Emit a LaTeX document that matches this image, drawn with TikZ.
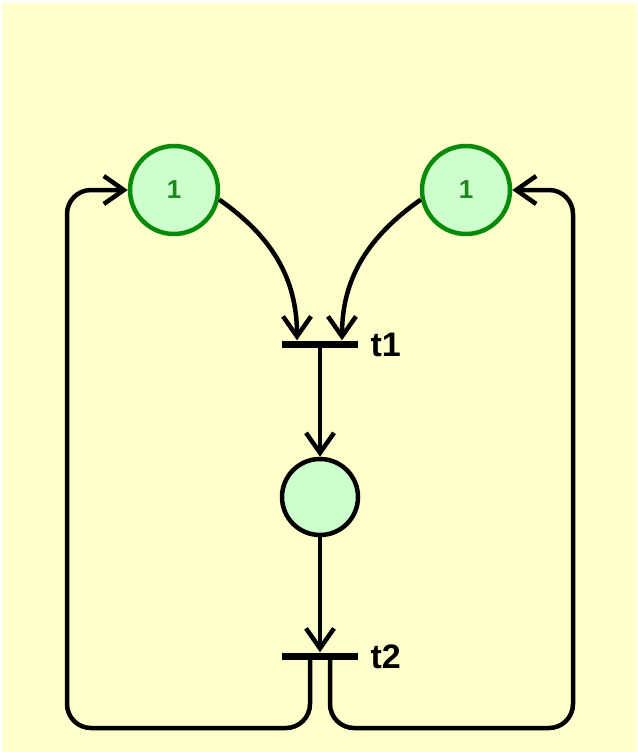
\documentclass[tikz,border=0pt]{standalone}
\usepackage{fontspec}
\setmainfont{Liberation Sans}
\usetikzlibrary{arrows.meta}
\definecolor{bgyellow}{HTML}{FFFFCC}
\definecolor{placefill}{HTML}{CCFFCC}
\definecolor{placegreen}{HTML}{0A8A0A}
\definecolor{tokengreen}{HTML}{1E871E}
\begin{document}
\begin{tikzpicture}[x=1pt,y=-1pt,
  place/.style={circle,draw,line width=4.5pt,fill=placefill,inner sep=0pt},
  marked/.style={place,draw=placegreen,minimum size=88pt,text=tokengreen,
    font=\bfseries\fontsize{26}{28}\selectfont},
  plain/.style={place,draw=black,minimum size=76pt},
  trans/.style={rectangle,fill=black,minimum width=76pt,minimum height=7pt,inner sep=0pt},
  tlabel/.style={anchor=west,font=\bfseries\fontsize{34}{36}\selectfont},
  arc/.style={line width=4.5pt,-{Straight Barb[length=20pt,width=28pt,line width=4.5pt]}}]
  % canvas
  \useasboundingbox (0,0) rectangle (637,752);
  \fill[white] (0,0) rectangle (637,752);
  \fill[bgyellow] (2,3) rectangle (637,752);

  % places and transitions
  \node[marked] (p1) at (174,190) {1};
  \node[marked] (p2) at (466,190) {1};
  \node[plain] (p3) at (320,497) {};
  \node[trans] (t1) at (320,344) {};
  \node[trans] (t2) at (320,656) {};
  \node[tlabel] (l1) at (367,345) {t1};
  \node[tlabel] (l2) at (367,657) {t2};

  % routing points of the return loops
  \coordinate (bl) at (67,728);
  \coordinate (br) at (573,728);

  % arcs
  \draw[arc] (p1.-12) to[out=-35,in=90] ([xshift=-23pt]t1.north);
  \draw[arc] (p2.192) to[out=215,in=90] ([xshift=22pt]t1.north);
  \draw[arc] (t1.south) -- (p3.north);
  \draw[arc] (p3.south) -- (t2.north);
  \draw[arc,rounded corners=24pt] ([xshift=-10pt]t2.center) |- (bl) |- (p1.west);
  \draw[arc,rounded corners=24pt] ([xshift=10pt]t2.center) |- (br) |- (p2.east);
\end{tikzpicture}
\end{document}
